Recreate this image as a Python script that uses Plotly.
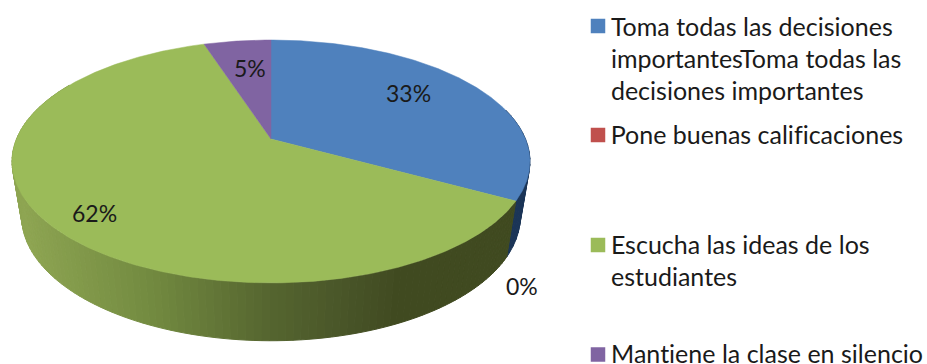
import numpy as np
import plotly.graph_objects as go

categories = ["Toma todas las decisiones importantesToma todas las decisiones importantes",
              "Pone buenas calificaciones",
              "Escucha las ideas de los estudiantes",
              "Mantiene la clase en silencio"]
values = [33, 0, 62, 5]
top_colors = ["#4F81BD", "#C0504D", "#9BBB59", "#8064A2"]
legend_lines = [["Toma todas las decisiones", "importantesToma todas las", "decisiones importantes"],
                ["Pone buenas calificaciones"],
                ["Escucha las ideas de los", "estudiantes"],
                ["Mantiene la clase en silencio"]]
legend_line_y = [[25.5, 57.5, 89.5], [133.5], [243.5, 275.5], [352.5]]
legend_marker_y = [26, 135, 245, 354.5]
label_pos = [(408, 93), (522, 286), (94, 213), (250, 68)]

FONT = "Lato"
K = 0.185
TOP = dict(cx=271, cy=139, A=254.5, B=117.3)
BOT = dict(cx=271, cy=193.5, A=245, B=120)

def project(theta_deg, d):
    t = np.radians(theta_deg)
    u, v = np.sin(t), -np.cos(t)
    den = 1 - K * v
    return d["cx"] + d["A"] * u / den, d["cy"] + d["B"] * v / den

# wall shading as function of screen x
shade_x = [20, 150, 270, 350, 400, 520]
shade_r = [0x8E, 0x72, 0x55, 0x48, 0x40, 0x40]
shade_g = [0xA5, 0x8A, 0x65, 0x54, 0x4A, 0x4A]
shade_b = [0x52, 0x40, 0x2F, 0x28, 0x20, 0x20]

fig = go.Figure()
edges = np.concatenate([[0], np.cumsum(values)]) * 3.6

def strip(a, b, color):
    x0, y0 = project(a, TOP); x1, y1 = project(b, TOP)
    x2, y2 = project(b, BOT); x3, y3 = project(a, BOT)
    fig.add_trace(go.Scatter(x=[x0, x1, x2, x3, x0], y=[y0, y1, y2, y3, y0], mode="lines",
                             fill="toself", fillcolor=color, line=dict(color=color, width=1),
                             hoverinfo="skip", showlegend=False))

# blue wall (visible right part of first slice)
blue_angles = np.append(np.arange(75, edges[1], 3), edges[1])
for a, b in zip(blue_angles[:-1], blue_angles[1:]):
    strip(a, b, "#1B3557")

# green wall
green_angles = np.append(np.arange(edges[2], 300, 1.5), 300)
for a, b in zip(green_angles[:-1], green_angles[1:]):
    xm = project((a + b) / 2, TOP)[0]
    r = np.interp(xm, shade_x, shade_r); g = np.interp(xm, shade_x, shade_g); bl = np.interp(xm, shade_x, shade_b)
    strip(a, b, f"rgb({r:.0f},{g:.0f},{bl:.0f})")

# top face
for i, (name, col) in enumerate(zip(categories, top_colors)):
    a, b = edges[i], edges[i + 1]
    th = np.linspace(a, b, max(2, int(b - a) * 2))
    xs, ys = project(th, TOP)
    x = np.concatenate([[TOP["cx"]], xs, [TOP["cx"]]])
    y = np.concatenate([[TOP["cy"]], ys, [TOP["cy"]]])
    if values[i] > 0:
        fig.add_trace(go.Scatter(x=x, y=y, mode="lines", fill="toself", fillcolor=col,
                                 line=dict(color=col, width=0.5), name=name, showlegend=False,
                                 hoverinfo="name"))

# legend markers
fig.add_trace(go.Scatter(x=[598] * 4, y=legend_marker_y, mode="markers",
                         marker=dict(symbol="square", size=14.5, color=top_colors, line=dict(width=0)),
                         hovertext=categories, hoverinfo="text", showlegend=False))

ann = []
for lines, ys in zip(legend_lines, legend_line_y):
    for t, y in zip(lines, ys):
        ann.append(dict(x=608.5, y=y, text=t, xanchor="left", yanchor="middle", showarrow=False,
                        font=dict(family=FONT, size=25, color="#1a1a1a")))
for v, (x, y) in zip(values, label_pos):
    ann.append(dict(x=x, y=y, text=f"{v}%", xanchor="center", yanchor="middle", showarrow=False,
                    font=dict(family=FONT, size=23, color="#1a1a1a")))

fig.update_layout(width=927, height=364, margin=dict(l=0, r=0, t=0, b=0),
                  paper_bgcolor="white", plot_bgcolor="white", annotations=ann,
                  xaxis=dict(range=[0, 927], visible=False, fixedrange=True),
                  yaxis=dict(range=[364, 0], visible=False, fixedrange=True))
css = ("document.body.style.margin='0';document.body.style.overflow='hidden';"
       "var s=document.createElement('style');"
       "s.textContent='text,tspan{font-variant-ligatures:none !important;letter-spacing:0.01px}';"
       "document.head.appendChild(s);")
fig.write_html("out.html", config={"displayModeBar": False}, post_script=css)
